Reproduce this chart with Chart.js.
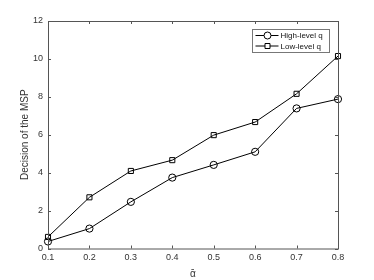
<!DOCTYPE html>
<html>
<head>
<meta charset="utf-8">
<script src="https://cdn.jsdelivr.net/npm/chart.js@4.4.1/dist/chart.umd.min.js"></script>
<style>
  html, body { margin: 0; padding: 0; background: #fff; }
  #wrap { width: 374px; height: 280px; position: relative; }
</style>
</head>
<body>
<div id="wrap"><canvas id="c"></canvas></div>
<script>
// alpha values on the x axis and the two series
const ALPHAS = ["0.1", "0.2", "0.3", "0.4", "0.5", "0.6", "0.7", "0.8"];
const HIGH_Q = [0.37, 1.05, 2.46, 3.74, 4.41, 5.10, 7.39, 7.88];
const LOW_Q = [0.61, 2.70, 4.09, 4.66, 5.98, 6.67, 8.16, 10.15];
const Y_TICKS = [0, 2, 4, 6, 8, 10, 12];

const AXIS = "#555";
const TXT = "#333";
const FONT = "'Liberation Sans', Arial, sans-serif";

// matlab-ish box: top/right border plus inward ticks on all four sides
const boxPlugin = {
  id: "box",
  afterDraw(chart) {
    const { ctx, chartArea: a, scales } = chart;
    ctx.save();
    ctx.strokeStyle = AXIS;
    ctx.lineWidth = 1;
    ctx.strokeRect(a.left + 0.5, a.top + 0.5, a.right - a.left, a.bottom - a.top);
    const t = 3;
    ctx.beginPath();
    scales.x.ticks.forEach((_, i) => {
      const x = Math.round(scales.x.getPixelForTick(i)) + 0.5;
      ctx.moveTo(x, a.bottom); ctx.lineTo(x, a.bottom - t);
      ctx.moveTo(x, a.top); ctx.lineTo(x, a.top + t);
    });
    scales.y.ticks.forEach((_, i) => {
      const y = Math.round(scales.y.getPixelForTick(i)) + 0.5;
      ctx.moveTo(a.left, y); ctx.lineTo(a.left + t, y);
      ctx.moveTo(a.right, y); ctx.lineTo(a.right - t, y);
    });
    ctx.stroke();

    // legend box, top right inside the axes
    const bx = 252.5, by = 29.5, bw = 77, bh = 23;
    ctx.fillStyle = "#fff";
    ctx.fillRect(bx, by, bw, bh);
    ctx.strokeStyle = "#777";
    ctx.strokeRect(bx, by, bw, bh);
    ctx.font = "8px " + FONT;
    ctx.textBaseline = "middle";
    chart.data.datasets.forEach((ds, i) => {
      const y = by + 6 + i * 10.5;
      ctx.strokeStyle = "#000";
      ctx.beginPath();
      ctx.moveTo(bx + 3, y); ctx.lineTo(bx + 26, y);
      ctx.stroke();
      ctx.beginPath();
      if (ds.pointStyle === "circle") ctx.arc(bx + 15, y, 3.5, 0, Math.PI * 2);
      else ctx.rect(bx + 12.5, y - 2.5, 5, 5);
      ctx.fillStyle = "#fff"; ctx.fill(); ctx.stroke();
      ctx.fillStyle = "#111";
      ctx.fillText(ds.label, bx + 28, y + 0.5);
    });
    ctx.restore();
  }
};

new Chart(document.getElementById("c"), {
  type: "line",
  data: {
    labels: ALPHAS,
    datasets: [
      { label: "High-level q", data: HIGH_Q, pointStyle: "circle", pointRadius: 3.6 },
      { label: "Low-level q", data: LOW_Q, pointStyle: "rect", pointRadius: 3.6 },
    ].map((d) => ({ ...d, borderColor: "#000", borderWidth: 1, pointBorderColor: "#000", pointBackgroundColor: "rgba(0,0,0,0)", pointBorderWidth: 1, tension: 0 })),
  },
  options: {
    responsive: true, maintainAspectRatio: false, animation: false,
    layout: { padding: { left: 19, right: 36, top: 21, bottom: 0 } },
    plugins: { legend: { display: false }, tooltip: { enabled: false } },
    scales: {
      x: {
        offset: false,
        grid: { display: false, drawTicks: false },
        border: { display: false },
        ticks: { color: TXT, font: { family: FONT, size: 9 }, padding: 4, maxRotation: 0 },
        title: { display: true, text: "ᾱ", color: TXT, font: { family: FONT, size: 10 }, padding: { top: 1, bottom: 0 } },
        afterFit: (s) => { s.height = 31.5; },
      },
      y: {
        min: 0, max: 12,
        afterBuildTicks: (s) => { s.ticks = Y_TICKS.map((v) => ({ value: v })); },
        grid: { display: false, drawTicks: false },
        border: { display: false },
        ticks: { color: TXT, font: { family: FONT, size: 9 }, padding: 5 },
        title: { display: true, text: "Decision of the MSP", color: TXT, font: { family: FONT, size: 10 }, padding: { top: 0, bottom: 4 } },
        afterFit: (s) => { s.width = 29; },
      },
    },
  },
  plugins: [boxPlugin],
});
</script>
</body>
</html>
